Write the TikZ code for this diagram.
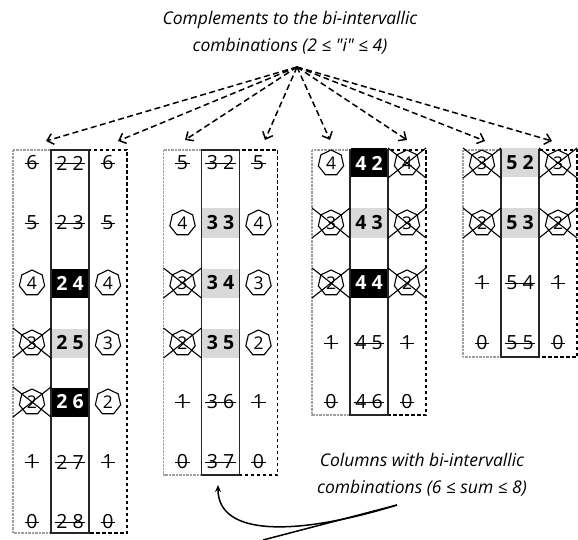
\documentclass[tikz,border=0pt]{standalone}
\usepackage{fontspec}
\setmainfont{Open Sans}[Ligatures=TeXOff]
\usetikzlibrary{shapes.geometric,arrows.meta}
\newcommand\sside[4]{\node[num] (#1) at (#2,#3) {#4}; \draw[strike] ([xshift=-1.5pt]#1.west) -- ([xshift=1.5pt]#1.east);}
\newcommand\hside[4]{\node[hept] (#1) at (#2,#3) {#4};}
\newcommand\xside[4]{\node[hept] (#1) at (#2,#3) {#4}; \draw[xcross] ([shift={(-19,-15)}]#1.center) -- ([shift={(19,15)}]#1.center) ([shift={(-19,15)}]#1.center) -- ([shift={(19,-15)}]#1.center);}
\newcommand\bmid[4]{\node[bcell] (#1) at (#2,#3) {#4};}
\newcommand\gmid[4]{\node[gcell] (#1) at (#2,#3) {#4};}
\newcommand\frames[2]{%
 \draw[leftframe] (#1,150) rectangle ({#1+38},#2);
 \draw[rightframe] ({#1+76},150) rectangle ({#1+114},#2);
 \draw[midframe] ({#1+38},150) rectangle ({#1+76},#2);}
\begin{document}
\begin{tikzpicture}[x=1pt,y=-1pt,
  num/.style={inner sep=0pt, font=\fontsize{19.5}{19.5}\selectfont},
  strike/.style={line width=0.8pt},
  hept/.style={regular polygon, regular polygon sides=7, draw, line width=1.1pt, minimum size=26pt, inner sep=0pt, font=\fontsize{17.5}{17.5}\selectfont},
  xcross/.style={line width=1.1pt},
  bcell/.style={fill=black, text=white, minimum width=36.6pt, minimum height=29pt, inner sep=0pt, font=\fontsize{19.5}{19.5}\selectfont\bfseries},
  gcell/.style={bcell, fill=gray!30, text=black},
  midframe/.style={draw=black!85, line width=1.4pt},
  leftframe/.style={draw=gray!75, line width=1.5pt, dash pattern=on 0.8pt off 0.6pt},
  rightframe/.style={draw=black, line width=1.3pt, dash pattern=on 3.5pt off 2.5pt},
  ptr/.style={line width=1.5pt, dash pattern=on 6pt off 3.5pt, -{Straight Barb[length=6pt,width=11pt]}},
  caption/.style={align=center, font=\itshape\fontsize{17.5}{27}\selectfont},
  curvy/.style={line width=1.5pt}
]
\useasboundingbox (0,0) rectangle (578,540);

% frames
\frames{13}{533}
\frames{163.5}{475}
\frames{312}{415}
\frames{463}{357}

% group 1
\sside{g1r1l}{32}{163}{6} \sside{g1r1m}{70}{163}{2 2} \sside{g1r1r}{108}{163}{6}
\sside{g1r2l}{32}{223}{5} \sside{g1r2m}{70}{223}{2 3} \sside{g1r2r}{108}{223}{5}
\hside{g1r3l}{32}{283}{4} \bmid{g1r3m}{70}{283}{2 4} \hside{g1r3r}{108}{283}{4}
\xside{g1r4l}{32}{343}{3} \gmid{g1r4m}{70}{343}{2 5} \hside{g1r4r}{108}{343}{3}
\xside{g1r5l}{32}{402}{2} \bmid{g1r5m}{70}{402}{2 6} \hside{g1r5r}{108}{402}{2}
\sside{g1r6l}{32}{462}{1} \sside{g1r6m}{70}{462}{2 7} \sside{g1r6r}{108}{462}{1}
\sside{g1r7l}{32}{522}{0} \sside{g1r7m}{70}{522}{2 8} \sside{g1r7r}{108}{522}{0}

% group 2
\sside{g2r1l}{182.5}{163}{5} \sside{g2r1m}{220.5}{163}{3 2} \sside{g2r1r}{258.5}{163}{5}
\hside{g2r2l}{182.5}{223}{4} \gmid{g2r2m}{220.5}{223}{3 3} \hside{g2r2r}{258.5}{223}{4}
\xside{g2r3l}{182.5}{283}{3} \gmid{g2r3m}{220.5}{283}{3 4} \hside{g2r3r}{258.5}{283}{3}
\xside{g2r4l}{182.5}{343}{2} \gmid{g2r4m}{220.5}{343}{3 5} \hside{g2r4r}{258.5}{343}{2}
\sside{g2r5l}{182.5}{402}{1} \sside{g2r5m}{220.5}{402}{3 6} \sside{g2r5r}{258.5}{402}{1}
\sside{g2r6l}{182.5}{462}{0} \sside{g2r6m}{220.5}{462}{3 7} \sside{g2r6r}{258.5}{462}{0}

% group 3
\hside{g3r1l}{331}{163}{4} \bmid{g3r1m}{369}{163}{4 2} \xside{g3r1r}{407}{163}{4}
\xside{g3r2l}{331}{223}{3} \gmid{g3r2m}{369}{223}{4 3} \xside{g3r2r}{407}{223}{3}
\xside{g3r3l}{331}{283}{2} \bmid{g3r3m}{369}{283}{4 4} \xside{g3r3r}{407}{283}{2}
\sside{g3r4l}{331}{343}{1} \sside{g3r4m}{369}{343}{4 5} \sside{g3r4r}{407}{343}{1}
\sside{g3r5l}{331}{402}{0} \sside{g3r5m}{369}{402}{4 6} \sside{g3r5r}{407}{402}{0}

% group 4
\xside{g4r1l}{482}{163}{3} \gmid{g4r1m}{520}{163}{5 2} \xside{g4r1r}{558}{163}{3}
\xside{g4r2l}{482}{223}{2} \gmid{g4r2m}{520}{223}{5 3} \xside{g4r2r}{558}{223}{2}
\sside{g4r3l}{482}{283}{1} \sside{g4r3m}{520}{283}{5 4} \sside{g4r3r}{558}{283}{1}
\sside{g4r4l}{482}{343}{0} \sside{g4r4m}{520}{343}{5 5} \sside{g4r4r}{558}{343}{0}

% top caption and pointers
\node[caption] (title) at (290,33) {Complements to the bi-intervallic\\combinations (2 ≤ "i" ≤ 4)};
\coordinate (apex) at (297,67);
\coordinate (t1) at (46,141);
\coordinate (t2) at (118,141);
\coordinate (t3) at (185,140);
\coordinate (t4) at (265,140);
\coordinate (t5) at (330,140);
\coordinate (t6) at (407,140);
\coordinate (t7) at (485,141);
\coordinate (t8) at (552,141);
\foreach \t in {t1,t2,t3,t4,t5,t6,t7,t8} \draw[ptr] (apex) -- (\t);

% bottom caption and pointers
\node[caption] (note) at (422,475) {Columns with bi-intervallic\\combinations (6 ≤ sum ≤ 8)};
\coordinate (cs) at (397,505);
\coordinate (tip) at (218,485);
\coordinate (off) at (263,540);
\draw[curvy, -{Stealth[length=7pt,width=6pt]}] (cs) .. controls (300,535) and (218,538) .. (tip);
\draw[curvy] (cs) -- (off);
\end{tikzpicture}
\end{document}
